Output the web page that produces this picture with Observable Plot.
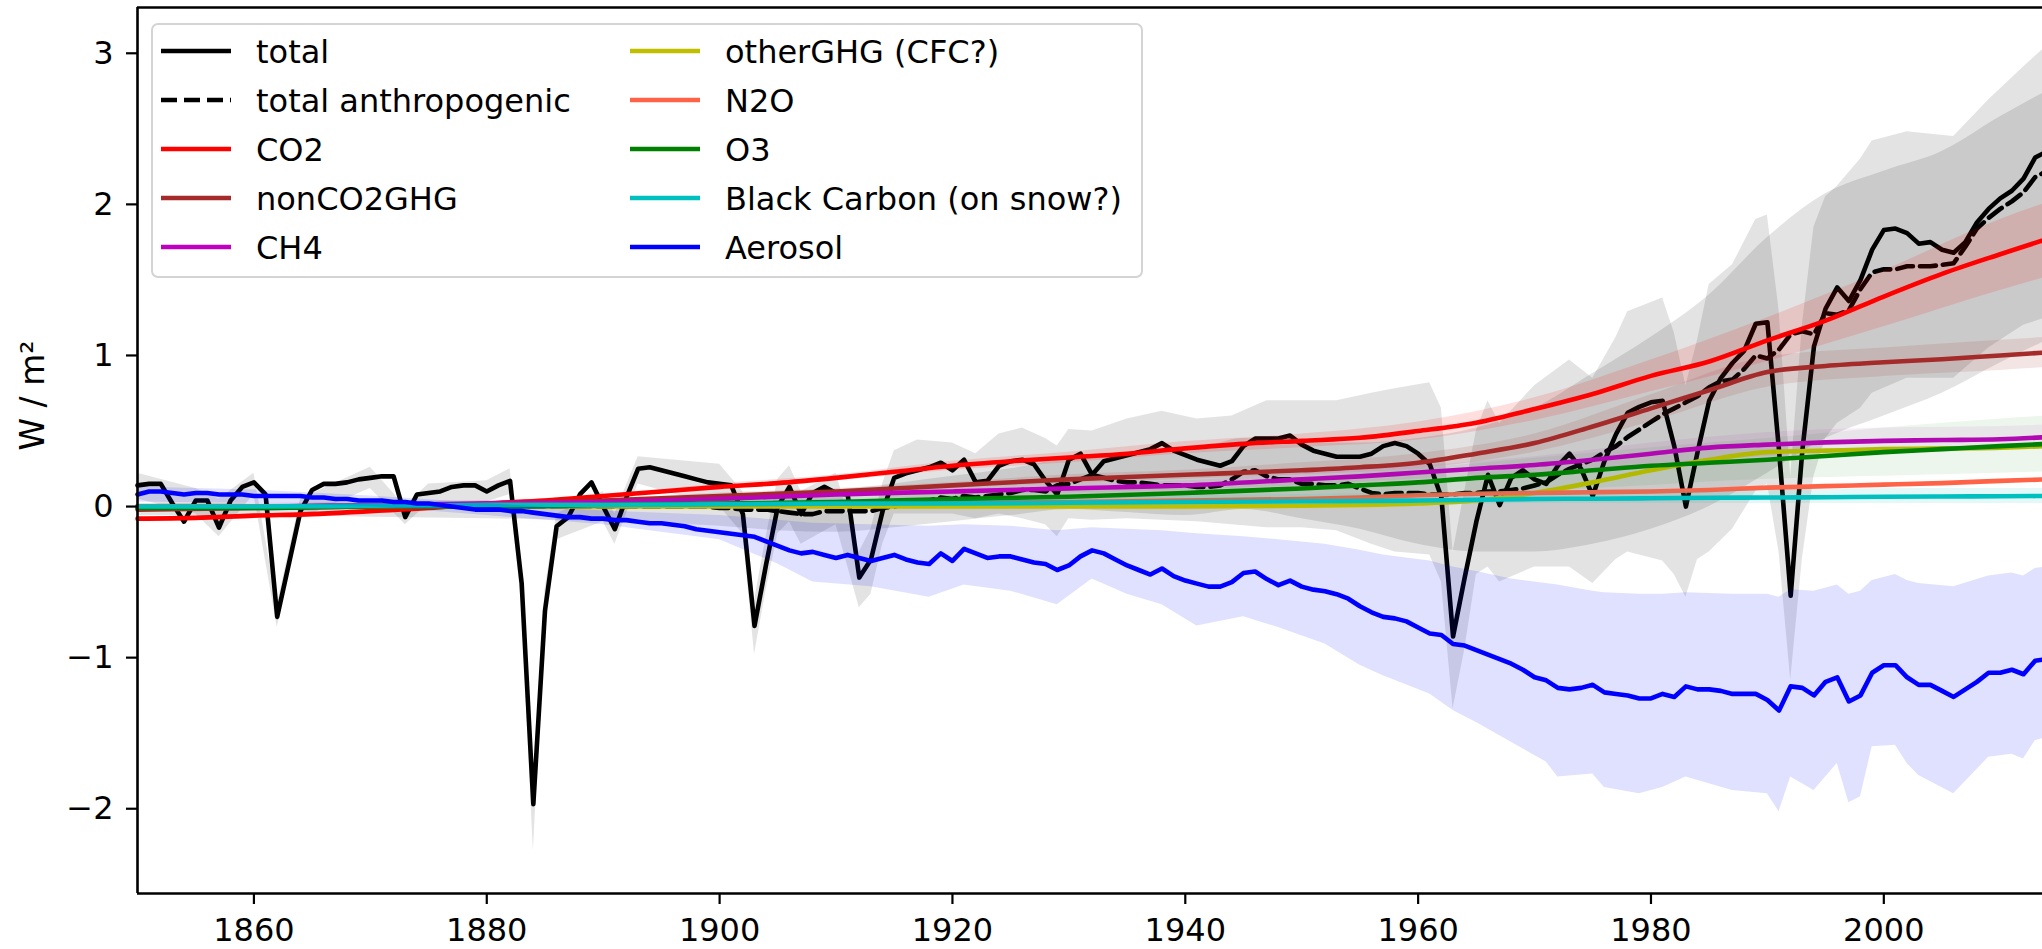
<!DOCTYPE html>
<html><head><meta charset="utf-8">
<script src="https://cdn.jsdelivr.net/npm/d3@7"></script>
<script src="https://cdn.jsdelivr.net/npm/@observablehq/plot@0.6"></script>
<style>
html,body{margin:0;padding:0;background:#fff;overflow:hidden}
#wrap{position:relative;width:2042px;height:949px;font-family:"DejaVu Sans",sans-serif}
#legend{position:absolute;left:151px;top:23px;width:992px;height:255px;background:rgba(255,255,255,0.8);border:2px solid #d4d4d4;border-radius:7px;box-sizing:border-box}
.item{position:absolute;height:40px;display:flex;align-items:center;font-size:32px;color:#000;white-space:nowrap}
.item svg{margin-right:25px;flex:none}
.item span{position:relative;top:1px}
</style></head><body><div id="wrap"></div>
<script>
// ---- axis settings ----
const xLimits = [1850, 2013.63];
const yLimits = [-2.561, 3.303];
const xTicks = [1860, 1880, 1900, 1920, 1940, 1960, 1980, 2000];
const yTicks = [-2, -1, 0, 1, 2, 3];
const yLabel = "W / m²";

// ---- legend ----
const seriesNames = ["total", "total anthropogenic", "CO2", "nonCO2GHG", "CH4",
  "otherGHG (CFC?)", "N2O", "O3", "Black Carbon (on snow?)", "Aerosol"];
const seriesColors = ["#000000", "#000000", "#ff0000", "#a52a2a", "#bf00bf",
  "#bfbf00", "#ff6347", "#008000", "#00bfbf", "#0000ff"];

// ---- annual series (1850 .. 2014) ----
const firstYear = 1850;
const total = [0.14,0.15,0.15,0.02,-0.10,0.04,0.04,-0.14,0.04,0.13,
0.16,0.08,-0.73,-0.38,-0.03,0.11,0.15,0.15,0.16,0.18,
0.19,0.20,0.20,-0.07,0.08,0.09,0.10,0.13,0.14,0.14,
0.10,0.14,0.17,-0.51,-1.97,-0.69,-0.13,-0.07,0.08,0.16,
0.00,-0.15,0.06,0.25,0.26,0.24,0.22,0.20,0.18,0.16,
0.15,0.14,-0.05,-0.79,-0.38,0.00,0.13,-0.05,0.09,0.13,
0.09,0.08,-0.47,-0.35,-0.03,0.19,0.22,0.24,0.26,0.29,
0.24,0.31,0.16,0.17,0.27,0.30,0.31,0.28,0.17,0.08,
0.31,0.35,0.21,0.30,0.32,0.34,0.36,0.38,0.42,0.37,
0.34,0.31,0.29,0.27,0.30,0.40,0.45,0.45,0.45,0.47,
0.41,0.37,0.35,0.33,0.33,0.33,0.35,0.40,0.42,0.40,
0.35,0.28,0.06,-0.86,-0.47,-0.10,0.21,0.01,0.19,0.24,
0.18,0.15,0.27,0.35,0.25,0.07,0.30,0.48,0.62,0.66,
0.69,0.70,0.40,0.00,0.36,0.70,0.85,0.95,1.03,1.21,
1.22,0.37,-0.59,0.37,1.06,1.31,1.45,1.36,1.50,1.70,
1.83,1.84,1.81,1.74,1.75,1.70,1.68,1.75,1.88,1.97,
2.04,2.09,2.17,2.31,2.35];
const anthro = [0.00,0.00,0.00,0.00,0.00,0.00,0.00,0.00,0.00,0.00,
0.00,0.00,0.00,0.00,0.00,0.00,0.00,0.00,0.00,0.00,
0.00,0.00,0.00,0.00,0.00,0.00,0.00,0.00,0.00,0.00,
0.00,0.00,0.00,0.00,0.00,0.00,0.00,0.00,0.00,0.00,
0.00,0.00,0.00,0.00,0.00,0.00,0.00,0.00,0.00,0.00,
-0.01,-0.01,-0.02,-0.02,-0.02,-0.03,-0.04,-0.05,-0.05,-0.03,
-0.03,-0.03,-0.03,-0.03,-0.01,0.00,0.02,0.03,0.04,0.06,
0.05,0.07,0.06,0.07,0.08,0.09,0.11,0.11,0.10,0.14,
0.15,0.18,0.21,0.19,0.17,0.16,0.16,0.15,0.14,0.14,
0.14,0.13,0.13,0.14,0.18,0.23,0.24,0.20,0.18,0.18,
0.15,0.15,0.14,0.14,0.15,0.12,0.09,0.08,0.09,0.09,
0.09,0.08,0.08,0.08,0.09,0.09,0.10,0.10,0.11,0.12,
0.14,0.16,0.21,0.25,0.28,0.31,0.36,0.40,0.46,0.51,
0.56,0.61,0.65,0.69,0.73,0.79,0.83,0.84,0.91,1.00,
0.98,1.04,1.14,1.16,1.14,1.28,1.27,1.30,1.44,1.55,
1.57,1.57,1.59,1.59,1.59,1.60,1.61,1.72,1.84,1.91,
1.97,2.02,2.08,2.18,2.22];
const aerosol = [0.08,0.10,0.10,0.09,0.08,0.09,0.09,0.08,0.08,0.08,
0.07,0.07,0.07,0.07,0.07,0.06,0.06,0.05,0.05,0.04,
0.04,0.04,0.03,0.03,0.02,0.02,0.01,0.00,-0.01,-0.02,
-0.02,-0.02,-0.03,-0.03,-0.04,-0.05,-0.06,-0.07,-0.07,-0.08,
-0.08,-0.09,-0.09,-0.10,-0.11,-0.11,-0.12,-0.13,-0.15,-0.16,
-0.17,-0.18,-0.19,-0.20,-0.23,-0.26,-0.29,-0.31,-0.30,-0.32,
-0.34,-0.32,-0.34,-0.36,-0.34,-0.32,-0.35,-0.37,-0.38,-0.31,
-0.36,-0.28,-0.31,-0.34,-0.33,-0.33,-0.35,-0.37,-0.38,-0.42,
-0.39,-0.33,-0.29,-0.31,-0.35,-0.39,-0.42,-0.45,-0.41,-0.46,
-0.49,-0.51,-0.53,-0.53,-0.50,-0.44,-0.43,-0.48,-0.52,-0.49,
-0.53,-0.55,-0.56,-0.58,-0.61,-0.66,-0.70,-0.73,-0.74,-0.76,
-0.80,-0.84,-0.85,-0.91,-0.92,-0.95,-0.98,-1.01,-1.04,-1.08,
-1.13,-1.15,-1.20,-1.21,-1.20,-1.18,-1.23,-1.24,-1.25,-1.27,
-1.27,-1.24,-1.26,-1.19,-1.21,-1.21,-1.22,-1.24,-1.24,-1.24,
-1.28,-1.35,-1.19,-1.20,-1.25,-1.16,-1.13,-1.29,-1.25,-1.10,
-1.05,-1.05,-1.13,-1.18,-1.18,-1.22,-1.26,-1.21,-1.16,-1.10,
-1.10,-1.08,-1.11,-1.02,-1.01];

// ---- uncertainty band of total ----
const totalBandYears = [1850,1855,1857,1860,1862,1864,1870,1873,1875,1880,1882,1883,1884,1885,1886,1890,1891,1893,1900,1902,1903,1904,1905,1906,1907,1910,1912,1913,1914,1915,1917,1920,1922,1924,1926,1928,1929,1930,1932,1935,1938,1941,1944,1947,1950,1953,1956,1958,1961,1962,1963,1964,1965,1966,1967,1970,1973,1975,1977,1978,1981,1982,1983,1984,1985,1987,1989,1990,1991,1992,1993,1994,1995,1996,1998,1999,2002,2006,2009,2012,2014];
const totalBandLo = [0.05,-0.05,-0.20,0.08,-0.80,-0.08,0.12,-0.12,0.02,0.03,0.08,-0.65,-2.28,-0.85,-0.22,-0.10,-0.25,0.15,0.00,-0.18,-0.98,-0.55,-0.18,-0.10,-0.25,-0.12,-0.67,-0.58,-0.25,-0.05,-0.05,-0.05,-0.08,-0.05,-0.08,-0.12,-0.20,-0.08,-0.09,-0.08,-0.09,-0.10,-0.12,-0.14,-0.14,-0.16,-0.25,-0.30,-0.32,-0.50,-1.34,-0.95,-0.45,-0.40,-0.50,-0.40,-0.40,-0.51,-0.35,-0.30,-0.36,-0.45,-0.60,-0.35,-0.30,-0.15,0.10,0.15,-0.30,-1.15,-0.35,0.20,0.45,0.55,0.65,0.75,0.85,0.85,1.05,1.20,1.25];
const totalBandHi = [0.22,0.12,0.05,0.22,-0.65,0.05,0.26,0.00,0.15,0.17,0.25,-0.40,-1.85,-0.55,-0.05,0.10,-0.05,0.33,0.28,0.10,-0.62,-0.20,0.18,0.27,0.10,0.22,-0.30,-0.15,0.15,0.37,0.44,0.42,0.35,0.48,0.52,0.45,0.40,0.51,0.50,0.58,0.63,0.58,0.60,0.70,0.70,0.70,0.75,0.78,0.82,0.65,-0.30,0.10,0.50,0.70,0.55,0.80,0.97,0.85,1.12,1.29,1.38,1.15,0.80,1.10,1.47,1.60,1.90,1.93,1.30,0.20,1.20,1.85,2.05,2.12,2.30,2.42,2.48,2.45,2.69,2.91,3.05];

// ---- uncertainty band of total anthropogenic ----
const anthroBandYears = [1850,1860,1870,1880,1890,1900,1905,1910,1915,1920,1925,1930,1935,1940,1945,1950,1955,1960,1965,1970,1975,1980,1985,1990,1995,2000,2005,2010,2014];
const anthroBandLo = [-0.06,-0.06,-0.07,-0.08,-0.10,-0.13,-0.16,-0.17,-0.14,-0.10,-0.06,-0.02,-0.04,-0.06,-0.02,-0.08,-0.15,-0.25,-0.30,-0.30,-0.25,-0.15,0.00,0.22,0.45,0.60,0.75,0.95,1.10];
const anthroBandHi = [0.02,0.02,0.03,0.04,0.05,0.07,0.09,0.11,0.15,0.20,0.25,0.32,0.35,0.36,0.45,0.42,0.42,0.45,0.52,0.65,0.88,1.12,1.40,1.78,2.07,2.22,2.35,2.58,2.75];

// ---- aerosol band ----
const aeroBandYears = [1850,1860,1870,1880,1890,1900,1905,1908,1913,1918,1921,1925,1929,1932,1935,1938,1941,1945,1948,1952,1955,1957,1961,1963,1965,1968,1971,1972,1975,1976,1979,1981,1983,1987,1990,1991,1992,1994,1996,1997,1998,1999,2001,2002,2003,2006,2009,2011,2012,2013,2014];
const aeroBandLo = [0.03,0.02,0.00,-0.06,-0.12,-0.22,-0.38,-0.50,-0.53,-0.60,-0.52,-0.56,-0.65,-0.48,-0.58,-0.65,-0.79,-0.73,-0.80,-0.91,-1.05,-1.12,-1.24,-1.35,-1.43,-1.56,-1.69,-1.79,-1.77,-1.86,-1.90,-1.86,-1.79,-1.88,-1.90,-2.02,-1.79,-1.88,-1.70,-1.96,-1.92,-1.59,-1.58,-1.70,-1.78,-1.90,-1.66,-1.64,-1.67,-1.55,-1.53];
const aeroBandHi = [0.13,0.11,0.07,0.02,-0.03,-0.06,-0.09,-0.11,-0.12,-0.13,-0.12,-0.13,-0.16,-0.14,-0.15,-0.16,-0.18,-0.20,-0.22,-0.25,-0.29,-0.32,-0.36,-0.40,-0.43,-0.48,-0.51,-0.52,-0.56,-0.57,-0.58,-0.58,-0.57,-0.58,-0.58,-0.60,-0.55,-0.56,-0.52,-0.58,-0.56,-0.49,-0.45,-0.49,-0.51,-0.53,-0.46,-0.44,-0.46,-0.41,-0.40];

// ---- smooth forcing components ----
const co2Years = [1850,1855,1860,1865,1870,1875,1880,1885,1890,1895,1900,1905,1910,1915,1920,1925,1930,1935,1940,1945,1950,1955,1960,1965,1970,1975,1980,1985,1990,1995,2000,2005,2010,2014];
const co2 = [-0.08,-0.075,-0.06,-0.05,-0.03,-0.01,0.02,0.04,0.07,0.10,0.13,0.155,0.19,0.23,0.27,0.30,0.325,0.35,0.385,0.415,0.435,0.455,0.50,0.555,0.645,0.745,0.865,0.96,1.10,1.23,1.39,1.54,1.67,1.77];
const bandYears = [1850,1860,1870,1880,1890,1900,1910,1920,1930,1940,1950,1960,1970,1980,1990,2000,2010,2014];
const co2Lo = [-0.09,-0.07,-0.04,0.01,0.06,0.11,0.17,0.24,0.29,0.35,0.39,0.44,0.57,0.76,0.96,1.19,1.43,1.52];
const co2Hi = [-0.07,-0.05,-0.02,0.03,0.08,0.15,0.21,0.30,0.36,0.43,0.48,0.56,0.72,0.97,1.25,1.56,1.90,2.01];

const smoothYears = [1850,1860,1870,1880,1890,1900,1910,1920,1930,1940,1950,1955,1960,1965,1970,1975,1980,1985,1990,1995,2000,2005,2010,2014];
const nonCO2GHG = [-0.02,-0.01,0.00,0.02,0.04,0.07,0.10,0.14,0.18,0.21,0.24,0.26,0.29,0.35,0.42,0.53,0.65,0.77,0.89,0.93,0.955,0.975,1.00,1.02];
const ch4 = [0.00,0.00,0.01,0.02,0.03,0.05,0.08,0.10,0.12,0.14,0.18,0.20,0.225,0.25,0.275,0.31,0.35,0.39,0.41,0.425,0.435,0.44,0.445,0.46];
const otherGHG = [0.00,0.00,0.00,0.00,0.00,0.00,0.00,0.00,0.00,0.00,0.005,0.01,0.02,0.04,0.09,0.16,0.24,0.31,0.36,0.37,0.38,0.385,0.39,0.40];
const n2o = [0.00,0.00,0.005,0.01,0.01,0.015,0.02,0.025,0.03,0.04,0.05,0.06,0.075,0.085,0.09,0.095,0.10,0.11,0.125,0.135,0.145,0.155,0.17,0.18];
const o3 = [-0.01,-0.01,0.00,0.00,0.01,0.02,0.03,0.05,0.065,0.09,0.12,0.14,0.16,0.19,0.21,0.24,0.27,0.29,0.31,0.335,0.36,0.38,0.40,0.415];
const blackCarbon = [0.00,0.00,0.005,0.01,0.01,0.015,0.02,0.02,0.025,0.03,0.035,0.037,0.04,0.045,0.05,0.052,0.055,0.058,0.06,0.062,0.065,0.067,0.068,0.07];

const nonCO2Lo = [-0.03,-0.02,-0.01,0.01,0.03,0.05,0.08,0.12,0.15,0.18,0.21,0.25,0.36,0.56,0.79,0.86,0.90,0.92];
const nonCO2Hi = [-0.01,0.00,0.01,0.03,0.05,0.09,0.12,0.16,0.21,0.24,0.29,0.35,0.48,0.74,0.99,1.05,1.10,1.12];
const ch4Lo = [-0.01,-0.01,0.00,0.01,0.02,0.03,0.06,0.08,0.09,0.11,0.14,0.18,0.22,0.28,0.33,0.35,0.37,0.38];
const ch4Hi = [0.01,0.01,0.02,0.03,0.04,0.07,0.10,0.12,0.15,0.17,0.22,0.27,0.33,0.42,0.49,0.52,0.53,0.54];
const o3Lo = [-0.03,-0.03,-0.02,-0.02,-0.01,-0.01,0.00,0.01,0.02,0.03,0.05,0.07,0.10,0.14,0.18,0.20,0.22,0.23];
const o3Hi = [0.01,0.01,0.02,0.02,0.03,0.05,0.07,0.09,0.11,0.15,0.19,0.25,0.32,0.39,0.45,0.52,0.58,0.60];
const bcLo = [-0.01,-0.01,-0.01,-0.01,-0.01,0.00,0.00,0.00,0.00,0.01,0.01,0.01,0.02,0.02,0.02,0.02,0.02,0.02];
const bcHi = [0.01,0.01,0.02,0.03,0.03,0.04,0.05,0.05,0.06,0.07,0.08,0.09,0.10,0.11,0.11,0.12,0.12,0.12];

// ---- tables for the library ----
const annual = total.map((v, i) => ({year: firstYear + i, total: v, anthro: anthro[i], aerosol: aerosol[i]}));
const band = (yrs, lo, hi) => yrs.map((yr, i) => ({year: yr, lo: lo[i], hi: hi[i]}));
const series = (yrs, vals) => yrs.map((yr, i) => ({year: yr, v: vals[i]}));

const lw = 4.6;
const smooth = "monotone-x";
const fs = 32;

const plot = Plot.plot({
  width: 2042,
  height: 949,
  marginLeft: 137,
  marginRight: 0,
  marginTop: 7,
  marginBottom: 56,
  style: {fontFamily: "DejaVu Sans, sans-serif", fontSize: fs + "px", background: "white", color: "black"},
  x: {domain: xLimits, ticks: xTicks, tickFormat: "d", label: null},
  y: {domain: yLimits, ticks: yTicks, tickFormat: "d", label: null},
  marks: [
    Plot.areaY(band(totalBandYears, totalBandLo, totalBandHi), {x: "year", y1: "lo", y2: "hi", fill: "black", fillOpacity: 0.11}),
    Plot.areaY(band(anthroBandYears, anthroBandLo, anthroBandHi), {x: "year", y1: "lo", y2: "hi", fill: "black", fillOpacity: 0.11, curve: smooth}),
    Plot.line(annual, {x: "year", y: "total", stroke: seriesColors[0], strokeWidth: lw}),
    Plot.line(annual, {x: "year", y: "anthro", stroke: seriesColors[1], strokeWidth: lw, strokeDasharray: "16,7"}),
    Plot.areaY(band(bandYears, co2Lo, co2Hi), {x: "year", y1: "lo", y2: "hi", fill: seriesColors[2], fillOpacity: 0.13, curve: smooth}),
    Plot.line(series(co2Years, co2), {x: "year", y: "v", stroke: seriesColors[2], strokeWidth: lw, curve: smooth}),
    Plot.areaY(band(bandYears, nonCO2Lo, nonCO2Hi), {x: "year", y1: "lo", y2: "hi", fill: seriesColors[3], fillOpacity: 0.12, curve: smooth}),
    Plot.line(series(smoothYears, nonCO2GHG), {x: "year", y: "v", stroke: seriesColors[3], strokeWidth: lw, curve: smooth}),
    Plot.areaY(band(bandYears, ch4Lo, ch4Hi), {x: "year", y1: "lo", y2: "hi", fill: seriesColors[4], fillOpacity: 0.07, curve: smooth}),
    Plot.line(series(smoothYears, ch4), {x: "year", y: "v", stroke: seriesColors[4], strokeWidth: lw, curve: smooth}),
    Plot.line(series(smoothYears, otherGHG), {x: "year", y: "v", stroke: seriesColors[5], strokeWidth: lw, curve: smooth}),
    Plot.line(series(smoothYears, n2o), {x: "year", y: "v", stroke: seriesColors[6], strokeWidth: lw, curve: smooth}),
    Plot.areaY(band(bandYears, o3Lo, o3Hi), {x: "year", y1: "lo", y2: "hi", fill: seriesColors[7], fillOpacity: 0.07, curve: smooth}),
    Plot.line(series(smoothYears, o3), {x: "year", y: "v", stroke: seriesColors[7], strokeWidth: lw, curve: smooth}),
    Plot.areaY(band(bandYears, bcLo, bcHi), {x: "year", y1: "lo", y2: "hi", fill: seriesColors[8], fillOpacity: 0.1, curve: smooth}),
    Plot.line(series(smoothYears, blackCarbon), {x: "year", y: "v", stroke: seriesColors[8], strokeWidth: lw, curve: smooth}),
    Plot.areaY(band(aeroBandYears, aeroBandLo, aeroBandHi), {x: "year", y1: "lo", y2: "hi", fill: seriesColors[9], fillOpacity: 0.12}),
    Plot.line(annual, {x: "year", y: "aerosol", stroke: seriesColors[9], strokeWidth: lw}),
    Plot.ruleX([xLimits[0]], {stroke: "black", strokeWidth: 2.6}),
    Plot.ruleY([yLimits[0], yLimits[1]], {stroke: "black", strokeWidth: 2.6}),
    Plot.axisX({ticks: xTicks, tickFormat: "d", tickSize: 11, tickPadding: 14, strokeWidth: 2.2, fontSize: fs, label: null}),
    Plot.axisY({ticks: yTicks, tickFormat: "d", tickSize: 11, tickPadding: 13, strokeWidth: 2.2, fontSize: fs, label: null}),
    Plot.text([yLabel], {frameAnchor: "left", text: d => d, rotate: -90, dx: -104, fontSize: 33})
  ]
});

const wrap = document.getElementById("wrap");
wrap.appendChild(plot);

// legend (overlay inside the axes, like the original)
const legend = document.createElement("div");
legend.id = "legend";
wrap.appendChild(legend);
const colX = [8, 477];
const rowY = [6, 55, 104, 153, 202];
seriesNames.forEach((name, i) => {
  const col = Math.floor(i / 5), row = i % 5;
  const item = document.createElement("div");
  item.className = "item";
  item.style.left = colX[col] + "px";
  item.style.top = rowY[row] + "px";
  const dash = i === 1 ? ' stroke-dasharray="16,7"' : '';
  item.innerHTML = `<svg width="70" height="10"><line x1="0" y1="5" x2="70" y2="5" stroke="${seriesColors[i]}" stroke-width="${lw}"${dash}/></svg><span></span>`;
  item.querySelector("span").textContent = name;
  legend.appendChild(item);
});
</script>
</body></html>
